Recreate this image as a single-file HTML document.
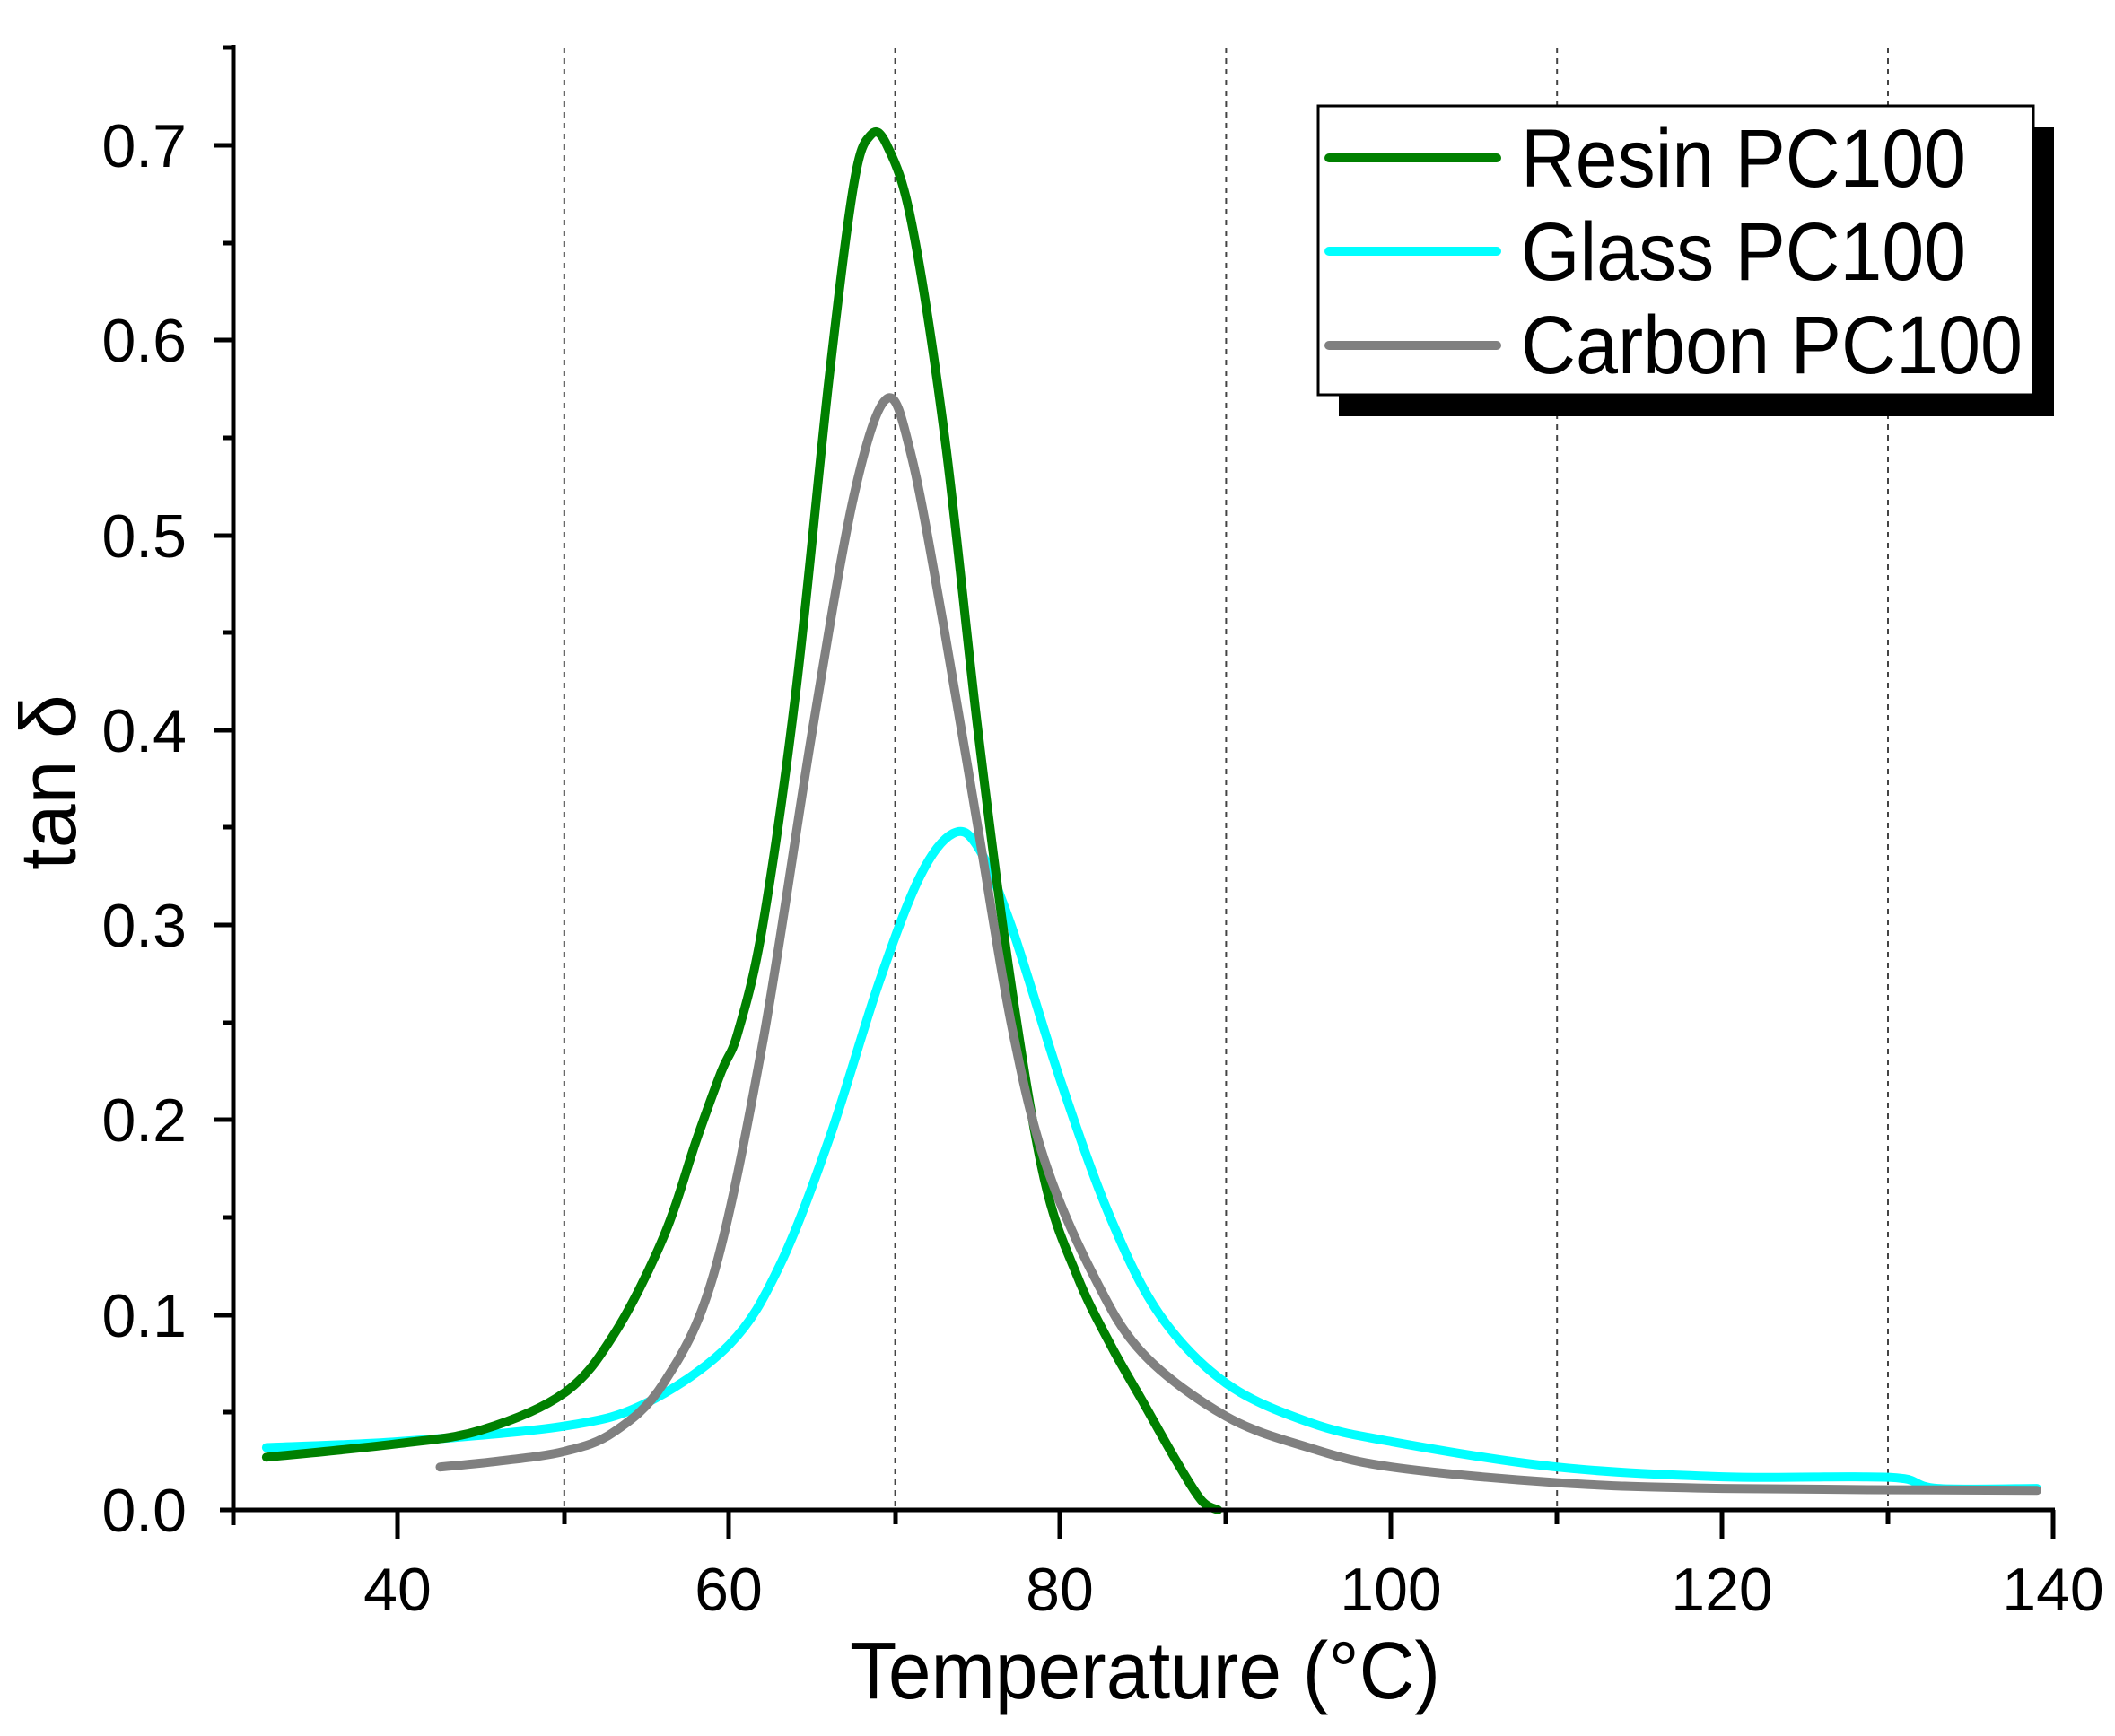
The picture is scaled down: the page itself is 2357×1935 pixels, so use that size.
<!DOCTYPE html>
<html><head><meta charset="utf-8"><style>body{margin:0;background:#fff}svg{display:block}text{font-family:"Liberation Sans",sans-serif;fill:#000}</style></head><body>
<svg width="2357" height="1935" viewBox="0 0 2357 1935" xmlns="http://www.w3.org/2000/svg">
<g stroke="#444" stroke-width="2" stroke-dasharray="6,6">
<line x1="628.8" y1="53" x2="628.8" y2="1680"/><line x1="997.6" y1="53" x2="997.6" y2="1680"/><line x1="1366.4" y1="53" x2="1366.4" y2="1680"/><line x1="1735.2" y1="53" x2="1735.2" y2="1680"/><line x1="2104" y1="53" x2="2104" y2="1680"/>
</g>
<g fill="none" stroke-linejoin="round" stroke-linecap="round" stroke-width="10">
<path id="g" stroke="#00ffff"/>
<path id="r" stroke="#008000"/>
<path id="c" stroke="#808080"/>
</g>
<g stroke="#000" stroke-width="5">
<line x1="260" y1="50" x2="260" y2="1700"/><line x1="245" y1="1683" x2="2290" y2="1683"/>
<line x1="443" y1="1683" x2="443" y2="1715"/><line x1="812" y1="1683" x2="812" y2="1715"/><line x1="1181" y1="1683" x2="1181" y2="1715"/><line x1="1550" y1="1683" x2="1550" y2="1715"/><line x1="1919" y1="1683" x2="1919" y2="1715"/><line x1="2288" y1="1683" x2="2288" y2="1715"/>
<line x1="629" y1="1683" x2="629" y2="1699"/><line x1="998" y1="1683" x2="998" y2="1699"/><line x1="1366" y1="1683" x2="1366" y2="1699"/><line x1="1735" y1="1683" x2="1735" y2="1699"/><line x1="2104" y1="1683" x2="2104" y2="1699"/>
<line x1="238" y1="1466" x2="260" y2="1466"/><line x1="238" y1="1248" x2="260" y2="1248"/><line x1="238" y1="1031" x2="260" y2="1031"/><line x1="238" y1="814" x2="260" y2="814"/><line x1="238" y1="597" x2="260" y2="597"/><line x1="238" y1="379" x2="260" y2="379"/><line x1="238" y1="162" x2="260" y2="162"/>
<line x1="248" y1="1574" x2="260" y2="1574"/><line x1="248" y1="1357" x2="260" y2="1357"/><line x1="248" y1="1140" x2="260" y2="1140"/><line x1="248" y1="922" x2="260" y2="922"/><line x1="248" y1="705" x2="260" y2="705"/><line x1="248" y1="488" x2="260" y2="488"/><line x1="248" y1="271" x2="260" y2="271"/><line x1="248" y1="53" x2="260" y2="53"/>
</g>
<g font-size="68" text-anchor="end">
<text x="208" y="1707">0.0</text><text x="208" y="1490">0.1</text><text x="208" y="1272">0.2</text><text x="208" y="1055">0.3</text><text x="208" y="838">0.4</text><text x="208" y="621">0.5</text><text x="208" y="403">0.6</text><text x="208" y="186">0.7</text>
</g>
<g font-size="68" text-anchor="middle">
<text x="443" y="1795">40</text><text x="812" y="1795">60</text><text x="1181" y="1795">80</text><text x="1550" y="1795">100</text><text x="1919" y="1795">120</text><text x="2288" y="1795">140</text>
</g>
<text x="947" y="1893" font-size="90" textLength="658" lengthAdjust="spacingAndGlyphs">Temperature (°C)</text>
<text transform="translate(84 872) rotate(-90)" font-size="88" text-anchor="middle">tan δ</text>
<rect x="1492" y="142" width="797" height="322" fill="#000"/>
<rect x="1469" y="118" width="797" height="322" fill="#fff" stroke="#000" stroke-width="3"/>
<g stroke-width="10" stroke-linecap="round">
<line x1="1481" y1="176" x2="1668" y2="176" stroke="#008000"/><line x1="1481" y1="280" x2="1668" y2="280" stroke="#00ffff"/><line x1="1481" y1="385" x2="1668" y2="385" stroke="#808080"/>
</g>
<g font-size="92" lengthAdjust="spacingAndGlyphs">
<text x="1695" y="208" textLength="496" lengthAdjust="spacingAndGlyphs">Resin PC100</text><text x="1695" y="312" textLength="496" lengthAdjust="spacingAndGlyphs">Glass PC100</text><text x="1695" y="416" textLength="559" lengthAdjust="spacingAndGlyphs">Carbon PC100</text>
</g>
</svg>
<script>
function P(a){return a.map(function(p){return [260+(p[0]-30)*18.44,1683-p[1]*2173];});}
function smooth(pts){var d="M"+pts[0][0].toFixed(1)+","+pts[0][1].toFixed(1);for(var i=0;i<pts.length-1;i++){var p0=pts[i-1]||pts[i],p1=pts[i],p2=pts[i+1],p3=pts[i+2]||p2;var c1=[p1[0]+(p2[0]-p0[0])/6,p1[1]+(p2[1]-p0[1])/6],c2=[p2[0]-(p3[0]-p1[0])/6,p2[1]-(p3[1]-p1[1])/6];d+="C"+c1[0].toFixed(1)+","+c1[1].toFixed(1)+" "+c2[0].toFixed(1)+","+c2[1].toFixed(1)+" "+p2[0].toFixed(1)+","+p2[1].toFixed(1);}return d;}
var R=[[32,0.027],[40,0.034],[45,0.041],[50,0.06],[53,0.09],[56,0.14],[58,0.19],[59.5,0.225],[60.5,0.245],[62,0.3],[64,0.42],[66,0.58],[67.5,0.68],[68.5,0.705],[69.5,0.7],[71,0.66],[73,0.55],[75,0.4],[77,0.27],[79,0.17],[81,0.12],[83,0.085],[85,0.055],[87,0.025],[88.5,0.005],[89.5,0]];
var G=[[32,0.032],[40,0.035],[50,0.043],[55,0.055],[60,0.085],[63,0.125],[66,0.19],[69,0.27],[71.5,0.325],[73.5,0.347],[75,0.34],[77,0.3],[80,0.22],[83,0.15],[86,0.1],[90,0.065],[95,0.045],[100,0.035],[110,0.022],[120,0.017],[128,0.017],[131,0.016],[133,0.011],[139,0.011]];
var C=[[42.5,0.022],[46,0.025],[50,0.03],[53,0.04],[56,0.065],[59,0.12],[62,0.24],[65,0.4],[67.5,0.52],[69.5,0.57],[71,0.54],[73,0.45],[75,0.35],[77,0.25],[79,0.18],[82,0.12],[85,0.08],[90,0.048],[95,0.032],[100,0.022],[110,0.014],[120,0.011],[139,0.01]];
document.getElementById("r").setAttribute("d",smooth(P(R)));
document.getElementById("g").setAttribute("d",smooth(P(G)));
document.getElementById("c").setAttribute("d",smooth(P(C)));
</script>
</body></html>
